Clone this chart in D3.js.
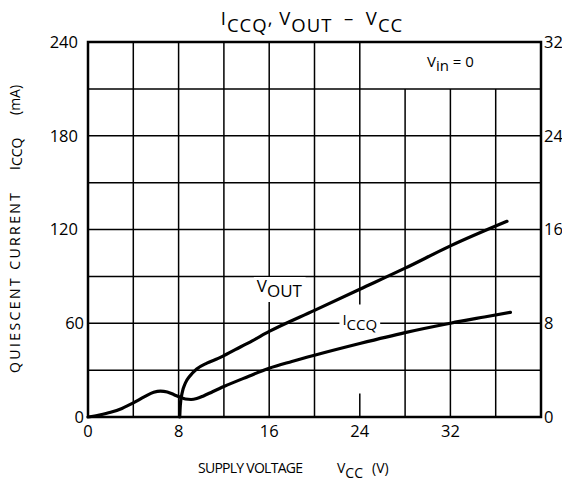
<!DOCTYPE html>
<html>
<head>
<meta charset="utf-8">
<script src="https://cdn.jsdelivr.net/npm/d3@7"></script>
<style>
  html, body { margin: 0; padding: 0; background: #fff; }
  svg { display: block; font-family: "Open Sans", "DejaVu Sans", sans-serif; }
</style>
</head>
<body>
<svg id="chart" width="562" height="481"></svg>
<script>
// ---- data ----
const iccqVcc = [0, 1, 2, 3, 4, 5, 5.8, 6.4, 7, 7.6, 8.1, 8.6, 9.1, 9.6, 10.2, 11, 12, 14, 16, 18, 20, 24, 28, 32, 35, 37.3];
const iccqMA  = [0, 1.3, 3, 5.5, 9, 13, 15.8, 16.6, 16, 14.3, 12.8, 11.5, 11.2, 11.8, 13.5, 16.2, 19.5, 25.5, 31.2, 35.5, 39.5, 47, 54, 60, 64, 67];
const voutVcc = [8.1, 8.15, 8.3, 8.6, 9.0, 9.6, 10.5, 11.5, 13, 14.5, 16, 20, 24, 28, 32, 37];
const voutV   = [0, 1.0, 2.0, 2.9, 3.5, 4.1, 4.6, 5.0, 5.75, 6.5, 7.3, 9.1, 10.9, 12.7, 14.6, 16.7];
const xTickValues = [0, 8, 16, 24, 32];
const yLeftTicks  = [0, 60, 120, 180, 240];
const yRightTicks = [0, 8, 16, 24, 32];
const gridVcc = [4, 8, 12, 16, 20, 24, 28, 32, 36];
const gridMA  = [30, 60, 90, 120, 150, 180, 210];

// ---- layout ----
const svg = d3.select("#chart");
const L = 88, R = 541, T = 42, B = 417;
const x  = d3.scaleLinear().domain([0, 40]).range([L, R]);
const y  = d3.scaleLinear().domain([0, 240]).range([B, T]);
const yR = d3.scaleLinear().domain([0, 32]).range([B, T]);

// ---- grid ----
const grid = svg.append("g").attr("stroke", "#000").attr("stroke-width", 1.5);
gridMA.forEach(v => {
  grid.append("line").attr("x1", x(0)).attr("x2", x(40)).attr("y1", y(v)).attr("y2", y(v));
});
gridVcc.forEach(v => {
  const top = v >= 28 ? 210 : 240;          // top row is open where the Vin label sits
  if (v === 24) {                           // gridline broken in the original
    grid.append("line").attr("x1", x(v)).attr("x2", x(v)).attr("y1", y(top)).attr("y2", y(72));
    grid.append("line").attr("x1", x(v)).attr("x2", x(v)).attr("y1", y(15)).attr("y2", y(0));
  } else {
    grid.append("line").attr("x1", x(v)).attr("x2", x(v)).attr("y1", y(top)).attr("y2", y(0));
  }
});

// ---- curves ----
const line = d3.line().curve(d3.curveMonotoneX);
svg.append("path")
  .attr("d", line(iccqVcc.map((v, i) => [x(v), y(iccqMA[i])])))
  .attr("fill", "none").attr("stroke", "#000").attr("stroke-width", 3.2)
  .attr("stroke-linejoin", "round").attr("stroke-linecap", "round");
svg.append("path")
  .attr("d", line(voutVcc.map((v, i) => [x(v), yR(voutV[i])])))
  .attr("fill", "none").attr("stroke", "#000").attr("stroke-width", 3.2)
  .attr("stroke-linejoin", "round").attr("stroke-linecap", "round");

// ---- frame ----
svg.append("rect").attr("x", L).attr("y", T).attr("width", R - L).attr("height", B - T)
  .attr("fill", "none").attr("stroke", "#000").attr("stroke-width", 2.5);

// ---- in-plot labels with white background ----
function richText(g, parts, size, shift) {
  const t = g.append("text").attr("font-size", size).attr("fill", "#000");
  let cur = 0;
  parts.forEach(p => {
    const target = p.sub ? shift : 0;
    t.append("tspan").attr("dy", target - cur).text(p.t);
    cur = target;
  });
  return t;
}
function curveLabel(cx, cy, parts, size, shift, pad) {
  const g = svg.append("g");
  const bg = g.append("rect").attr("fill", "#fff");
  const t = richText(g, parts, size, shift).attr("x", cx).attr("y", cy).attr("text-anchor", "middle");
  const bb = t.node().getBBox();
  bg.attr("x", bb.x - pad).attr("y", bb.y + 3).attr("width", bb.width + 2 * pad).attr("height", bb.height - 3);
  return g;
}
curveLabel(x(16.9), y(80), [{t: "V"}, {t: "OUT", sub: true}], 17, 5, 3);
curveLabel(x(24), y(59), [{t: "I"}, {t: "CCQ", sub: true}], 15, 5, 3);
richText(svg, [{t: "V"}, {t: "in", sub: true}, {t: "\u00A0=\u00A00"}], 15, 4)
  .attr("x", x(32)).attr("y", y(224)).attr("text-anchor", "middle");

// ---- axes labels ----
const tickFont = 16.5;
svg.append("g").selectAll("text").data(xTickValues).join("text")
  .attr("x", d => x(d)).attr("y", 437).attr("text-anchor", "middle")
  .attr("font-size", tickFont).text(d => d);
svg.append("g").selectAll("text").data(yLeftTicks).join("text")
  .attr("x", d => String(d).length > 2 ? 78 : 84).attr("y", d => y(d)).attr("dy", "0.36em")
  .attr("text-anchor", "end").attr("font-size", tickFont).text(d => d);
svg.append("g").selectAll("text").data(yRightTicks).join("text")
  .attr("x", 544).attr("y", d => yR(d)).attr("dy", "0.36em")
  .attr("text-anchor", "start").attr("font-size", tickFont).text(d => d);

// ---- title ----
richText(svg, [{t: "I"}, {t: "CCQ", sub: true}, {t: ",\u00A0V"}, {t: "OUT", sub: true},
               {t: "\u00A0\u00A0\u2013\u00A0\u00A0V"}, {t: "CC", sub: true}], 18.5, 7)
  .attr("x", 312).attr("y", 25).attr("text-anchor", "middle").attr("letter-spacing", 1);

// ---- x axis title ----
svg.append("text").attr("x", 198).attr("y", 473).attr("font-size", 14)
  .attr("textLength", 105).text("SUPPLY VOLTAGE");
richText(svg, [{t: "V"}, {t: "CC", sub: true}], 14, 5).attr("x", 337).attr("y", 473);
svg.append("text").attr("x", 372).attr("y", 473).attr("font-size", 14).text("(V)");

// ---- y axis title (rotated) ----
const yt = svg.append("g").attr("transform", "translate(20,0) rotate(-90)");
yt.append("text").attr("x", -373).attr("y", 0).attr("font-size", 14)
  .attr("textLength", 180).text("QUIESCENT CURRENT");
richText(yt, [{t: "I"}, {t: "CCQ", sub: true}], 14, 2).attr("x", -170).attr("y", 0);
yt.append("text").attr("x", -115).attr("y", 0).attr("font-size", 14).text("(mA)");
</script>
</body>
</html>
